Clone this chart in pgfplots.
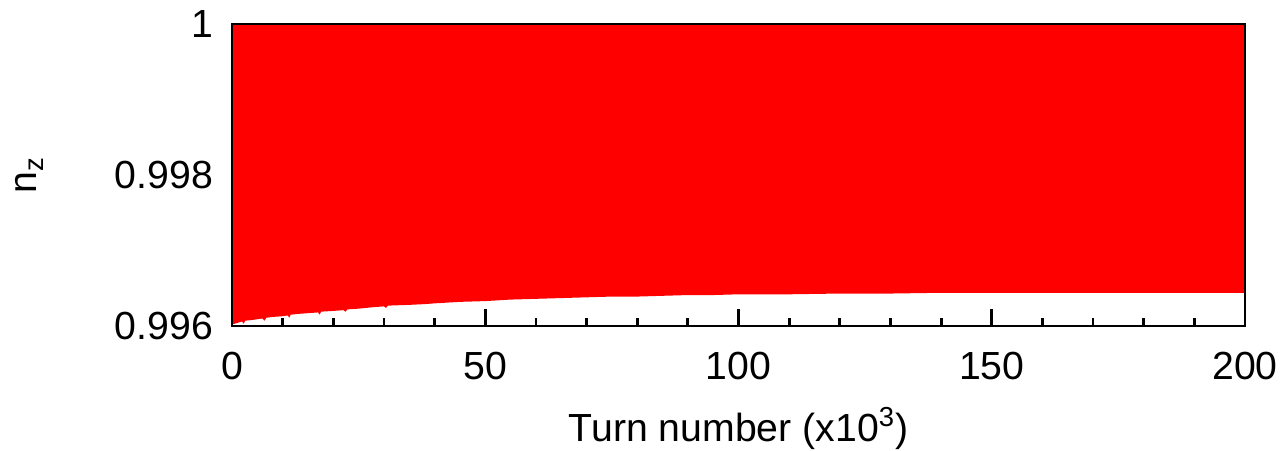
\documentclass[border=0pt]{standalone}
\usepackage{pgfplots}
\pgfplotsset{compat=1.18}
\usepackage{fontspec}
\setmainfont{Liberation Sans}
\newcommand{\lblfont}{\fontsize{19.6}{23}\selectfont}
\begin{document}
\begin{tikzpicture}
\path[use as bounding box] (-116pt,-62pt) rectangle (528pt,163pt);
\begin{axis}[
  at={(0,0)}, anchor=south west,
  scale only axis, width=506.5pt, height=151pt,
  xmin=0, xmax=200, ymin=0.996, ymax=1,
  axis line style={line width=1.4pt},
  xtick={0,50,100,150,200},
  minor x tick num=4,
  xtick pos=bottom, tick align=inside,
  major tick length=8.5pt, minor tick length=4pt,
  every tick/.style={black, line width=1.4pt},
  ytick={0.996,0.998,1},
  yticklabels={0.996,0.998,1},
  ytick style={draw=none},
  /pgf/number format/assume math mode=true,
  tick label style={font=\lblfont},
  xticklabel style={yshift=-9.5pt},
  yticklabel style={xshift=-6pt},
  xlabel={Turn number (x10\textsuperscript{3})},
  xlabel style={font=\lblfont, at={(axis description cs:0.5,-0.384)}, anchor=base},
  ylabel={n\textsubscript{z}},
  ylabel style={font=\lblfont, at={(axis description cs:-0.2,0.5)}, anchor=center},
  axis on top,
]
\addplot[fill=red, draw=none] coordinates {
(0,0.99602) (1,0.99604) (2,0.99606) (2.3,0.99603) (2.6,0.99607) (4,0.99608) (5,0.99609)
(6,0.99610) (6.4,0.99607) (6.8,0.99611) (8,0.99612) (10,0.99613) (11,0.99614) (11.3,0.99611) (11.6,0.99615)
(13,0.99616) (15,0.99617) (17,0.99618) (17.3,0.99615) (17.6,0.99619) (20,0.99620) (22,0.99621)
(22.4,0.99619) (22.8,0.99622) (25,0.99623) (28,0.99625) (30,0.99626) (30.4,0.99624) (30.8,0.99627)
(35,0.99628) (38,0.99629) (40,0.99630) (45,0.99632) (50,0.99633) (55,0.99635) (60,0.99636)
(65,0.99637) (70,0.99638) (75,0.99639) (80,0.99639) (85,0.99640) (90,0.99641) (95,0.99641)
(100,0.99642) (110,0.99642) (120,0.99643) (130,0.99643) (140,0.99644) (150,0.99644)
(160,0.99644) (170,0.99644) (180,0.99644) (190,0.99644) (200,0.99644)
(200,1) (0,1)
};
\end{axis}
\end{tikzpicture}
\end{document}
